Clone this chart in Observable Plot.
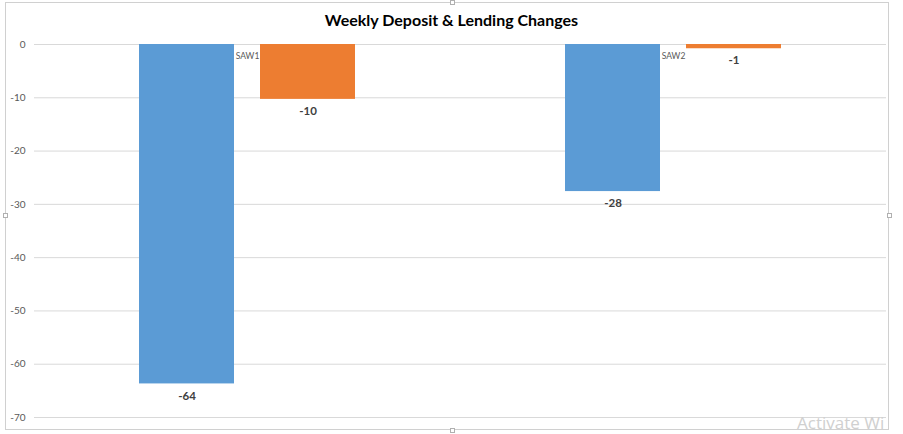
<!DOCTYPE html>
<html>
<head>
<meta charset="utf-8">
<script src="https://cdn.jsdelivr.net/npm/d3@7"></script>
<script src="https://cdn.jsdelivr.net/npm/@observablehq/plot@0.6"></script>
<style>
  html, body { margin: 0; padding: 0; background: #fff; overflow: hidden; }
  #wrap { position: relative; width: 903px; height: 434px; overflow: hidden; font-family: Lato, "Open Sans", sans-serif; }
  #chart { position: absolute; left: 0; top: 0; }
  #frame { position: absolute; left: 5px; top: 2px; width: 884px; height: 428px; border: 1px solid #d0d0d0; box-sizing: border-box; pointer-events: none; }
  #title { position: absolute; left: 0; top: 10px; width: 903px; text-align: center; font-weight: 700; font-size: 16px; color: #000; }
  .handle { position: absolute; width: 5px; height: 5px; background: #fff; border: 1px solid #b0b0b0; box-sizing: border-box; }
  #wm { position: absolute; left: 797px; top: 413px; font-size: 17px; line-height: 20px; color: #d0d0d0; font-family: "Open Sans", sans-serif; white-space: nowrap; }
</style>
</head>
<body>
<div id="wrap">
  <div id="chart"></div>
  <div id="frame"></div>
  <div class="handle" style="left:450px;top:0px"></div>
  <div class="handle" style="left:450px;top:428px"></div>
  <div class="handle" style="left:3px;top:213px"></div>
  <div class="handle" style="left:887px;top:213px"></div>
  <div id="title">Weekly Deposit &amp; Lending Changes</div>
  <div id="wm">Activate Wi</div>
</div>
<script>
const categories = ["SAW1", "SAW2"];
const series = ["Deposits", "Lending"];
const deposits = [-63.7, -27.6];
const lending = [-10.3, -0.8];
const yTicks = [0, -10, -20, -30, -40, -50, -60, -70];
const colors = ["#5b9bd5", "#ed7d31"];

const data = [];
categories.forEach((c, i) => {
  data.push({cat: c, series: series[0], value: deposits[i]});
  data.push({cat: c, series: series[1], value: lending[i]});
});

const chart = Plot.plot({
  width: 903,
  height: 434,
  marginTop: 44,
  marginBottom: 17,
  marginLeft: 33,
  marginRight: 17,
  style: {fontFamily: "Lato, 'Open Sans', sans-serif", background: "transparent"},
  fx: {domain: categories, padding: 0, axis: null, label: null},
  x: {domain: series, paddingInner: 0.2131, paddingOuter: 0.8545, axis: null, label: null},
  y: {domain: [-70, 0], ticks: yTicks, tickSize: 0, tickPadding: 9, tickFormat: d => String(d), label: null},
  color: {domain: series, range: colors},
  marks: [
    Plot.ruleY(yTicks, {stroke: "#d9d9d9", strokeWidth: 1}),
    Plot.barY(data, {fx: "cat", x: "series", y: "value", fill: "series"}),
    Plot.text(data, {fx: "cat", x: "series", y: "value", text: d => String(Math.round(d.value)), dy: 12, fill: "#404040", fontSize: 11.5, fontWeight: 700}),
    Plot.text(categories, {fx: d => d, y: () => 0, text: d => d, dy: 12, fill: "#595959", fontSize: 8.5, letterSpacing: "0.6px"})
  ]
});
const yAxis = chart.querySelector("g[aria-label='y-axis tick label']") || chart.querySelector("g[aria-label='y-axis']");
if (yAxis) { yAxis.setAttribute("font-size", "10"); yAxis.setAttribute("fill", "#595959"); }
document.getElementById("chart").appendChild(chart);
</script>
</body>
</html>
